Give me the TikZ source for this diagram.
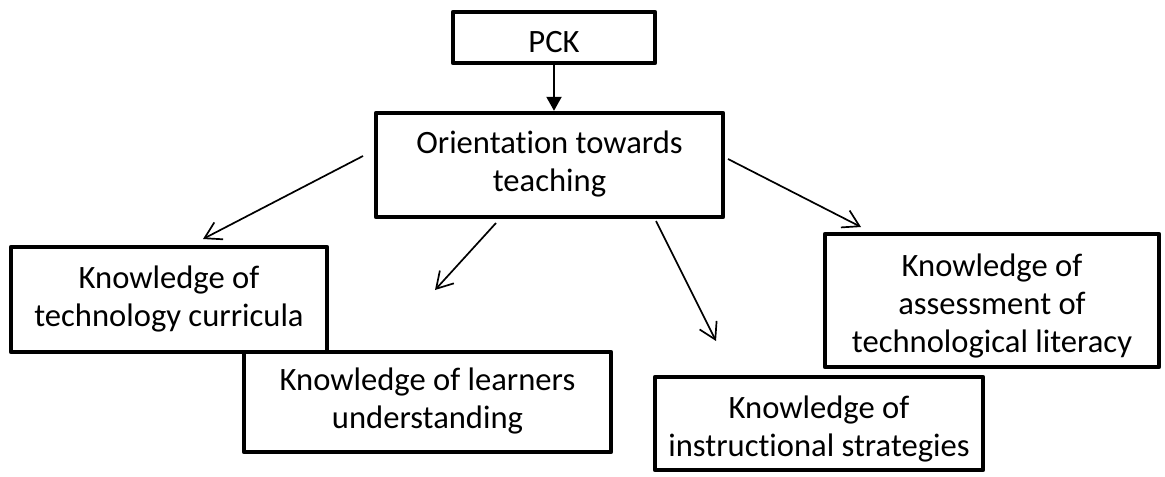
\documentclass[tikz,border=0pt]{standalone}
\usepackage{fontspec}
\setmainfont{Carlito}[Ligatures=NoCommon]
\usetikzlibrary{arrows.meta}
\newcommand{\boxtxt}[2]{\raisebox{-#1}[\height][\depth]{\begin{tabular}{@{}c@{}}#2\end{tabular}}}
\begin{document}
\begin{tikzpicture}[x=0.5pt,y=-0.5pt,
  kbox/.style={draw=black, line width=2.2pt, fill=white, inner sep=0pt,
    font=\fontsize{16.3}{19}\selectfont, line join=round},
  thinarrow/.style={line width=0.85pt, -{Straight Barb[length=8pt,width=9.5pt]}},
  mainarrow/.style={line width=1pt, -{Triangle[length=7pt,width=7.5pt]}}]
\fill[white] (0,0) rectangle (1165,476);
\useasboundingbox (0,0) rectangle (1165,476);

\node[kbox, minimum width=101pt, minimum height=25.5pt] (pck) at (554,37.5)
  {\boxtxt{3.5pt}{PCK}};
\node[kbox, minimum width=173.5pt, minimum height=52pt] (orient) at (549.5,165)
  {\boxtxt{0pt}{Orientation towards\\teaching}};
\node[kbox, minimum width=158pt, minimum height=52.5pt] (curr) at (169,299.5)
  {\boxtxt{0pt}{Knowledge of\\technology curricula}};
\node[kbox, minimum width=183.5pt, minimum height=50pt] (learn) at (427.5,402)
  {\boxtxt{0pt}{Knowledge of learners\\understanding}};
\node[kbox, minimum width=164pt, minimum height=46.5pt] (instr) at (819,423.5)
  {\boxtxt{3pt}{Knowledge of\\instructional strategies}};
\node[kbox, minimum width=167pt, minimum height=66.5pt] (assess) at (992,300.5)
  {\boxtxt{3pt}{Knowledge of\\assessment of\\technological literacy}};

\draw[mainarrow] (pck.south) -- (pck.south |- orient.north);

\coordinate (a1s) at (363,156);
\coordinate (a1e) at (203,239);
\coordinate (a2s) at (496,223);
\coordinate (a2e) at (435,290);
\coordinate (a3s) at (656,221);
\coordinate (a3e) at (716,341);
\coordinate (a4s) at (728,159);
\coordinate (a4e) at (861,227);
\draw[thinarrow] (a1s) -- (a1e);
\draw[thinarrow] (a2s) -- (a2e);
\draw[thinarrow] (a3s) -- (a3e);
\draw[thinarrow] (a4s) -- (a4e);
\end{tikzpicture}
\end{document}
